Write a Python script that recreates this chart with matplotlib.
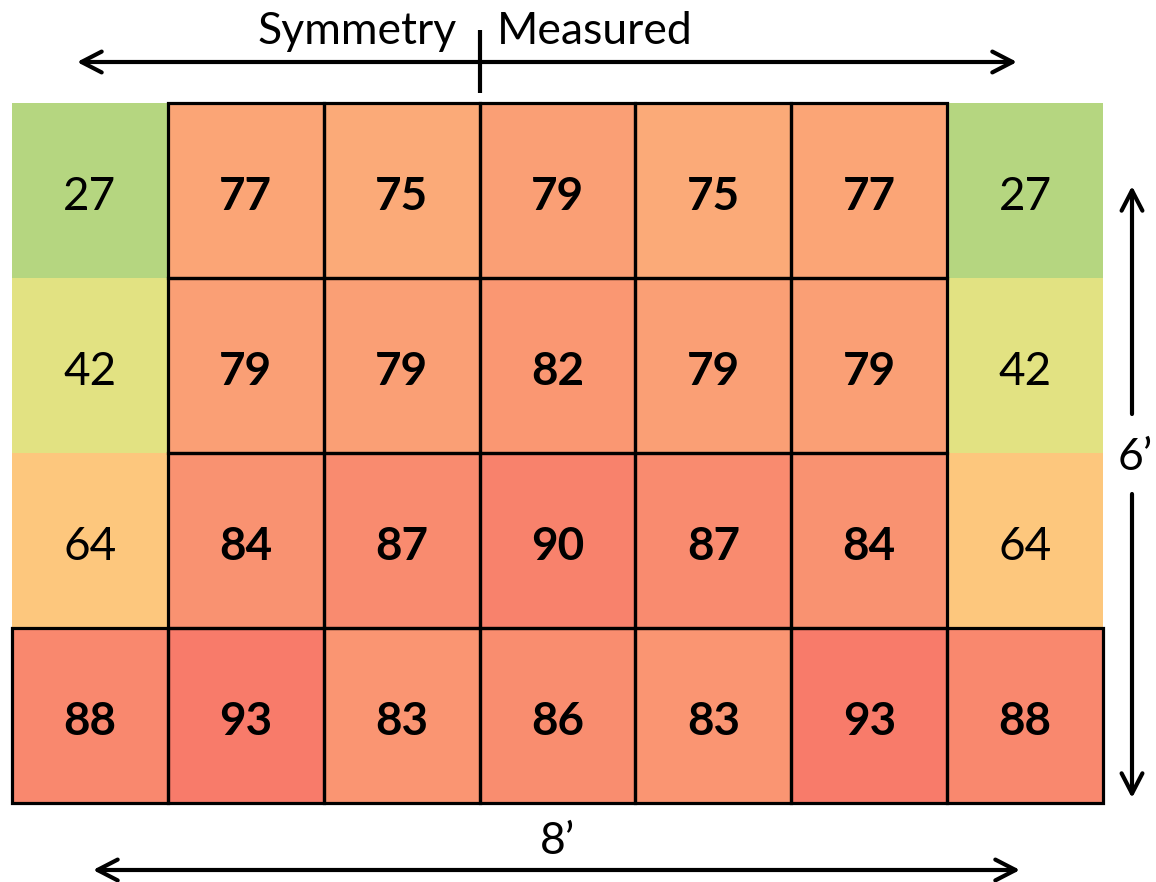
import numpy as np
import matplotlib
matplotlib.use("Agg")
import matplotlib.pyplot as plt
from matplotlib.colors import LinearSegmentedColormap, Normalize
from matplotlib.patches import Rectangle

plt.rcParams['font.family'] = ['Lato', 'DejaVu Sans']

# grid readings, top row first
values = [
    [27, 77, 75, 79, 75, 77, 27],
    [42, 79, 79, 82, 79, 79, 42],
    [64, 84, 87, 90, 87, 84, 64],
    [88, 93, 83, 86, 83, 93, 88],
]
# 1 = measured cell (boxed, bold), 0 = filled in by symmetry
measured = [
    [0, 1, 1, 1, 1, 1, 0],
    [0, 1, 1, 1, 1, 1, 0],
    [0, 1, 1, 1, 1, 1, 0],
    [1, 1, 1, 1, 1, 1, 1],
]
left_label = "Symmetry"
right_label = "Measured"
width_label = "8\u2019"
height_label = "6\u2019"

vals = np.array(values)
meas = np.array(measured)
nrows, ncols = vals.shape

cmap = LinearSegmentedColormap.from_list(
    "scale",
    [(0.0, "#B5D680"), (0.227, "#E2E282"), (0.56, "#FDC77D"),
     (0.727, "#FBAA78"), (1.0, "#F87B6A")])
norm = Normalize(vmin=vals.min(), vmax=vals.max())

fig = plt.figure(figsize=(11.56, 8.82), dpi=100)
W, H = 1156, 882
ax = fig.add_axes([12 / W, (H - 803) / H, 1091 / W, 700 / H])
ax.pcolormesh(np.arange(ncols + 1), np.arange(nrows + 1), vals,
              cmap=cmap, norm=norm, shading="flat")
ax.set_xlim(0, ncols)
ax.set_ylim(nrows, 0)
ax.axis("off")

for r in range(nrows):
    for c in range(ncols):
        if meas[r, c]:
            ax.add_patch(Rectangle((c, r), 1, 1, fill=False, ec="black",
                                   lw=2.3, zorder=3, clip_on=False))
        ax.text(c + 0.5, r + 0.535, str(vals[r, c]), ha="center", va="center",
                fontsize=33, fontweight="bold" if meas[r, c] else "normal",
                color="black", zorder=4)

# pixel -> data helpers for the annotation arrows
cw = 1091 / ncols
ch = 700 / nrows


def px(x):
    return (x - 12) / cw


def py(y):
    return (y - 103) / ch


arrow_kw = dict(arrowstyle="<->,head_length=1.45,head_width=0.75",
                lw=3, color="black", shrinkA=0, shrinkB=0)

# top arrow with split tick
ax.annotate("", xy=(px(77), py(62)), xytext=(px(1017), py(62)),
            arrowprops=arrow_kw, annotation_clip=False)
ax.plot([3, 3], [py(30), py(93)], color="black", lw=3, clip_on=False,
        solid_capstyle="butt")
ax.text(px(457), py(31), left_label, ha="right", va="center", fontsize=32)
ax.text(px(497), py(31), right_label, ha="left", va="center", fontsize=32)

# bottom arrow
ax.annotate("", xy=(px(93), py(870)), xytext=(px(1020), py(870)),
            arrowprops=arrow_kw, annotation_clip=False)
ax.text(px(557), py(842), width_label, ha="center", va="center", fontsize=32)

# right vertical arrow, broken around the label
one_kw = dict(arrowstyle="->,head_length=1.45,head_width=0.75",
              lw=3, color="black", shrinkA=0, shrinkB=0)
ax.annotate("", xy=(px(1132), py(186)), xytext=(px(1132), py(414)),
            arrowprops=one_kw, annotation_clip=False)
ax.annotate("", xy=(px(1132), py(798)), xytext=(px(1132), py(494)),
            arrowprops=one_kw, annotation_clip=False)
ax.text(px(1135), py(457), height_label, ha="center", va="center", fontsize=32,
        clip_on=False)

fig.savefig("out.png", dpi=100)
